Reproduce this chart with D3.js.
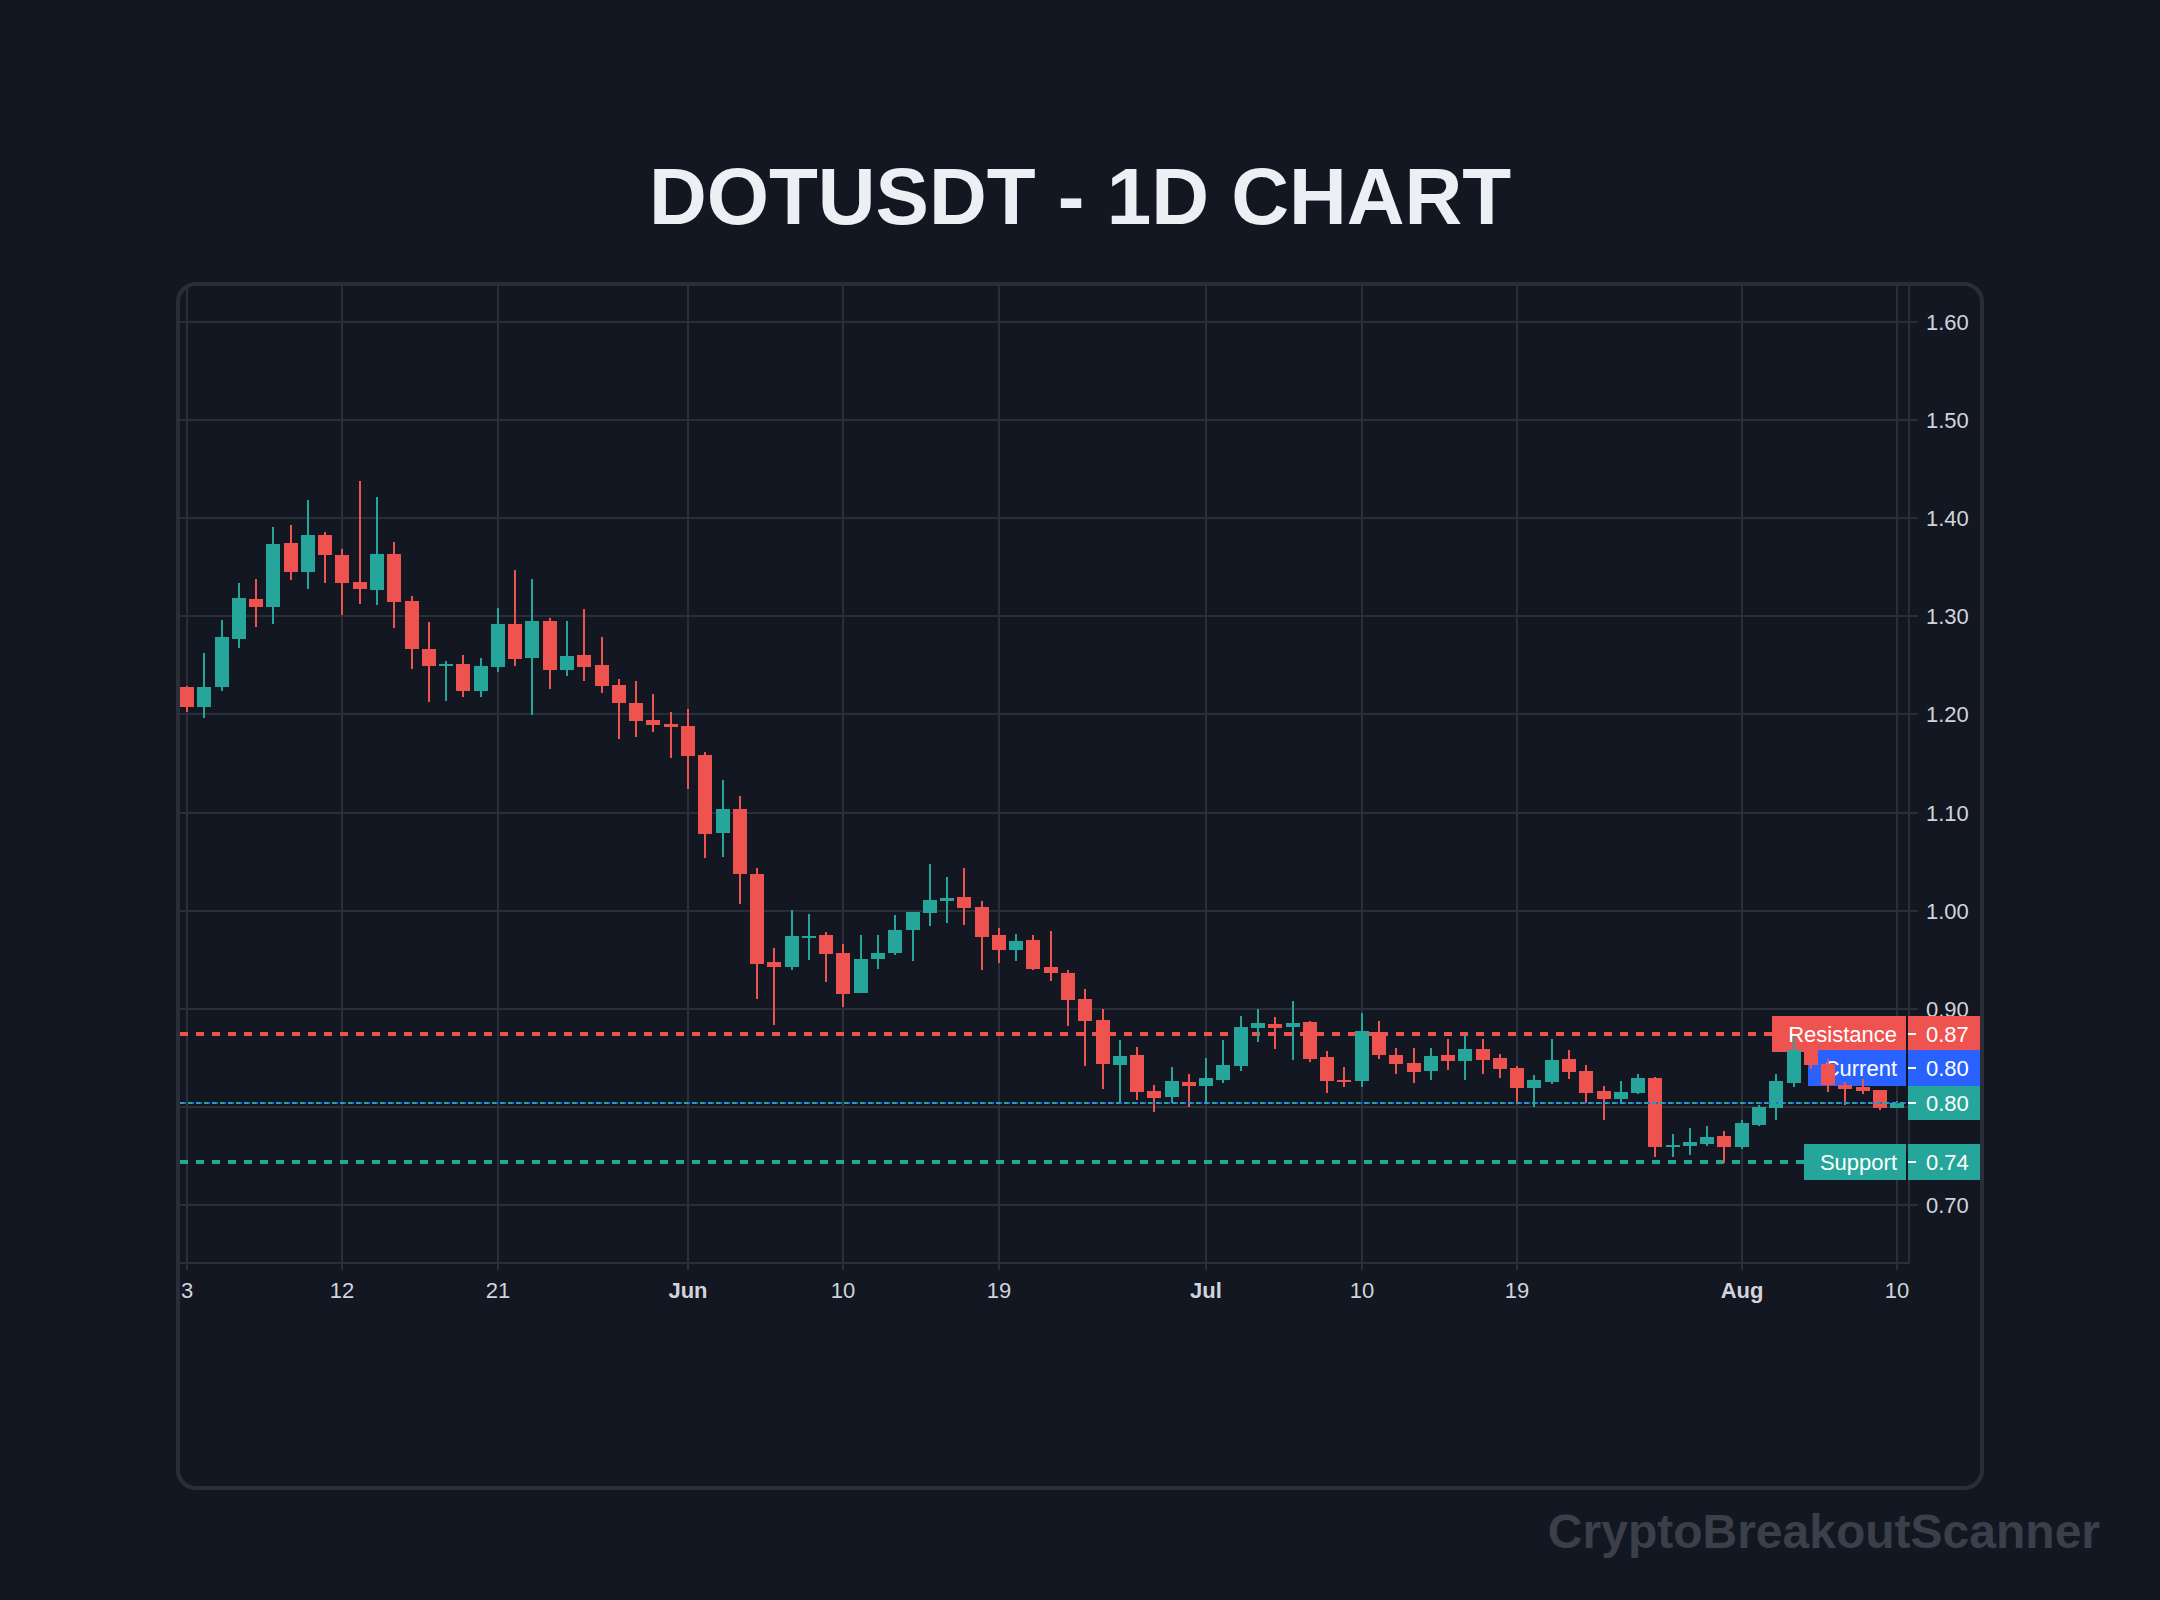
<!DOCTYPE html>
<html>
<head>
<meta charset="utf-8">
<title>DOTUSDT - 1D CHART</title>
<script src="https://cdn.jsdelivr.net/npm/d3@7"></script>
<style>
    html, body { margin: 0; padding: 0; background: #131722; }
    svg { display: block; font-family: "Liberation Sans", Arial, sans-serif; }
</style>
</head>
<body>
<svg id="chart" width="2160" height="1600"></svg>
<script>
const opens = [
    1.2272, 1.2068, 1.2272, 1.2762, 1.3170, 1.3088, 1.3741, 1.3446, 1.3823, 1.3619,
    1.3344, 1.3262, 1.3629, 1.3150, 1.2660, 1.2486, 1.2507, 1.2231, 1.2476, 1.2915,
    1.2568, 1.2946, 1.2446, 1.2599, 1.2497, 1.2293, 1.2109, 1.1935, 1.1895, 1.1875,
    1.1580, 1.0786, 1.1031, 1.0369, 0.9475, 0.9424, 0.9719, 0.9749, 0.9566, 0.9159,
    0.9505, 0.9566, 0.9800, 0.9973, 1.0095, 1.0136, 1.0034, 0.9749, 0.9597, 0.9698,
    0.9424, 0.9363, 0.9098, 0.8885, 0.8425, 0.8527, 0.8160, 0.8099, 0.8252, 0.8211,
    0.8272, 0.8415, 0.8803, 0.8844, 0.8813, 0.8864, 0.8507, 0.8272, 0.8262, 0.8762,
    0.8527, 0.8446, 0.8364, 0.8527, 0.8466, 0.8588, 0.8497, 0.8395, 0.8190, 0.8252,
    0.8486, 0.8364, 0.8153, 0.8071, 0.8133, 0.8286, 0.7582, 0.7602, 0.7622, 0.7694,
    0.7582, 0.7816, 0.7980, 0.8235, 0.8571, 0.8429, 0.8214, 0.8194, 0.8163, 0.7980,
];
const closes = [
    1.2068, 1.2272, 1.2782, 1.3180, 1.3088, 1.3731, 1.3446, 1.3823, 1.3619, 1.3333,
    1.3272, 1.3629, 1.3139, 1.2660, 1.2486, 1.2507, 1.2231, 1.2486, 1.2915, 1.2558,
    1.2946, 1.2446, 1.2588, 1.2476, 1.2282, 1.2109, 1.1925, 1.1884, 1.1864, 1.1569,
    1.0776, 1.1031, 1.0369, 0.9454, 0.9424, 0.9739, 0.9739, 0.9556, 0.9149, 0.9505,
    0.9566, 0.9800, 0.9983, 1.0105, 1.0125, 1.0024, 0.9729, 0.9597, 0.9688, 0.9403,
    0.9363, 0.9088, 0.8875, 0.8437, 0.8517, 0.8150, 0.8088, 0.8262, 0.8211, 0.8293,
    0.8425, 0.8813, 0.8854, 0.8803, 0.8854, 0.8486, 0.8262, 0.8252, 0.8772, 0.8527,
    0.8435, 0.8354, 0.8517, 0.8466, 0.8588, 0.8476, 0.8384, 0.8190, 0.8272, 0.8476,
    0.8354, 0.8139, 0.8071, 0.8143, 0.8286, 0.7582, 0.7612, 0.7643, 0.7684, 0.7582,
    0.7827, 0.7990, 0.8255, 0.8571, 0.8418, 0.8214, 0.8173, 0.8153, 0.7980, 0.8036,
];
const highs = [
    1.2282, 1.2619, 1.2956, 1.3333, 1.3374, 1.3905, 1.3925, 1.4180, 1.3854, 1.3680,
    1.4374, 1.4211, 1.3752, 1.3201, 1.2935, 1.2537, 1.2599, 1.2568, 1.3078, 1.3466,
    1.3374, 1.2976, 1.2946, 1.3068, 1.2782, 1.2354, 1.2333, 1.2201, 1.2017, 1.2047,
    1.1610, 1.1325, 1.1163, 1.0431, 0.9617, 1.0003, 0.9963, 0.9780, 0.9658, 0.9749,
    0.9749, 0.9953, 0.9983, 1.0471, 1.0339, 1.0431, 1.0095, 0.9820, 0.9759, 0.9749,
    0.9790, 0.9393, 0.9200, 0.8997, 0.8680, 0.8609, 0.8221, 0.8405, 0.8333, 0.8497,
    0.8680, 0.8925, 0.8997, 0.8915, 0.9078, 0.8874, 0.8568, 0.8405, 0.8956, 0.8874,
    0.8599, 0.8599, 0.8599, 0.8690, 0.8741, 0.8690, 0.8537, 0.8415, 0.8323, 0.8690,
    0.8578, 0.8425, 0.8204, 0.8255, 0.8327, 0.8296, 0.7724, 0.7776, 0.7796, 0.7755,
    0.7857, 0.8020, 0.8327, 0.8704, 0.8602, 0.8480, 0.8245, 0.8276, 0.8163, 0.8051,
];
const lows = [
    1.2017, 1.1956, 1.2231, 1.2670, 1.2884, 1.2915, 1.3364, 1.3272, 1.3333, 1.3007,
    1.3119, 1.3109, 1.2874, 1.2456, 1.2119, 1.2129, 1.2170, 1.2170, 1.2425, 1.2486,
    1.1986, 1.2252, 1.2384, 1.2333, 1.2211, 1.1741, 1.1762, 1.1813, 1.1549, 1.1234,
    1.0532, 1.0542, 1.0064, 0.9098, 0.8834, 0.9393, 0.9495, 0.9271, 0.9017, 0.9159,
    0.9403, 0.9546, 0.9485, 0.9841, 0.9871, 0.9851, 0.9393, 0.9464, 0.9485, 0.9393,
    0.9281, 0.8824, 0.8417, 0.8183, 0.8037, 0.8068, 0.7946, 0.8037, 0.7997, 0.8037,
    0.8241, 0.8364, 0.8660, 0.8588, 0.8476, 0.8456, 0.8139, 0.8201, 0.8201, 0.8486,
    0.8333, 0.8241, 0.8272, 0.8374, 0.8272, 0.8333, 0.8293, 0.8037, 0.7997, 0.8231,
    0.8282, 0.8037, 0.7867, 0.8031, 0.8122, 0.7480, 0.7480, 0.7510, 0.7602, 0.7429,
    0.7571, 0.7806, 0.7867, 0.8194, 0.8378, 0.8143, 0.8010, 0.8122, 0.7959, 0.7980,
];

const firstDay = new Date(Date.UTC(2024, 4, 3));
const lastDay = new Date(Date.UTC(2024, 7, 10));
const timeTicks = [
    [Date.UTC(2024, 4, 3), '3'],
    [Date.UTC(2024, 4, 12), '12'],
    [Date.UTC(2024, 4, 21), '21'],
    [Date.UTC(2024, 5, 1), 'Jun'],
    [Date.UTC(2024, 5, 10), '10'],
    [Date.UTC(2024, 5, 19), '19'],
    [Date.UTC(2024, 6, 1), 'Jul'],
    [Date.UTC(2024, 6, 10), '10'],
    [Date.UTC(2024, 6, 19), '19'],
    [Date.UTC(2024, 7, 1), 'Aug'],
    [Date.UTC(2024, 7, 10), '10'],
];
const monthTicks = ['Jun', 'Jul', 'Aug'];
const priceTicks = [1.6, 1.5, 1.4, 1.3, 1.2, 1.1, 1.0, 0.9, 0.8, 0.7];

const resistancePrice = 0.8745;
const supportPrice = 0.7439;
const currentPrice = closes[closes.length - 1];

const GRID = '#2a2e39';
const UP = '#26a69a';
const DOWN = '#ef5350';
const BLUE = '#2962ff';
const TEXT = '#d1d4dc';

// pane limits, in page pixels
const paneLeft = 180;
const paneRight = 1906;
const paneTop = 286;
const paneBottom = 1263;
const axisX = 1909;

const days = d3.utcDay.range(firstDay, d3.utcDay.offset(lastDay, 1));
const candles = days.map((d, i) => ({ date: d, open: opens[i], close: closes[i], high: highs[i], low: lows[i] }));

const x = d3.scaleUtc().domain([firstDay, lastDay]).rangeRound([187, 1897.2]);
const y = d3.scaleLinear().domain([0.7, 1.6]).rangeRound([1205, 321.9]);
// candles snap a touch higher than the grid lines do
const yCandle = d3.scaleLinear().domain([0.7, 1.6]).rangeRound([1204.6, 321.4]);

const svg = d3.select('#chart');

svg.append('rect').attr('width', 2160).attr('height', 1600).attr('fill', '#131722');

svg.append('text')
    .attr('x', 1080)
    .attr('y', 224)
    .attr('text-anchor', 'middle')
    .attr('font-size', 80)
    .attr('font-weight', 700)
    .attr('fill', '#eceff4')
    .text('DOTUSDT - 1D CHART');

svg.append('text')
    .attr('x', 2100)
    .attr('y', 1548)
    .attr('text-anchor', 'end')
    .attr('font-size', 48)
    .attr('font-weight', 700)
    .attr('fill', '#3b3f4a')
    .text('CryptoBreakoutScanner');

// grid
const grid = svg.append('g').attr('stroke', GRID).attr('stroke-width', 2);
grid.selectAll('line.h')
    .data(priceTicks)
    .join('line')
    .attr('class', 'h')
    .attr('x1', paneLeft)
    .attr('x2', axisX)
    .attr('y1', (d) => y(d))
    .attr('y2', (d) => y(d));
grid.selectAll('line.v')
    .data(timeTicks)
    .join('line')
    .attr('class', 'v')
    .attr('x1', (d) => x(d[0]))
    .attr('x2', (d) => x(d[0]))
    .attr('y1', paneTop)
    .attr('y2', paneBottom);

// axes
const priceAxis = d3.axisRight(y)
    .tickValues(priceTicks)
    .tickFormat(d3.format('.2f'))
    .tickSize(9)
    .tickPadding(8)
    .offset(0);
const timeAxis = d3.axisBottom(x)
    .tickValues(timeTicks.map((d) => new Date(d[0])))
    .tickFormat((d) => timeTicks.find((t) => t[0] === d.getTime())[1])
    .tickSize(7)
    .tickPadding(12)
    .offset(0);

const priceG = svg.append('g').attr('transform', `translate(${axisX},0)`).call(priceAxis);
const timeG = svg.append('g').attr('transform', `translate(0,${paneBottom})`).call(timeAxis);

[priceG, timeG].forEach((g) => {
    g.attr('font-family', null).attr('font-size', 22);
    g.select('.domain').attr('stroke', GRID).attr('stroke-width', 2);
    g.selectAll('.tick line').attr('stroke', GRID).attr('stroke-width', 2);
    g.selectAll('.tick text').attr('fill', TEXT);
});
priceG.select('.domain').attr('d', `M0,${paneTop}V${paneBottom + 1}`);
priceG.selectAll('.tick text').attr('dy', '0.35em');
timeG.select('.domain').attr('d', `M${paneLeft},0H${axisX + 1}`);
timeG.selectAll('.tick text')
    .attr('font-weight', function () {
        return monthTicks.includes(this.textContent) ? 700 : 400;
    });

// support and resistance sit under the candles
const levels = [
    { price: resistancePrice, name: 'Resistance', color: DOWN },
    { price: supportPrice, name: 'Support', color: UP },
];
svg.append('g')
    .selectAll('line')
    .data(levels)
    .join('line')
    .attr('x1', paneLeft)
    .attr('x2', paneRight)
    .attr('y1', (d) => y(d.price))
    .attr('y2', (d) => y(d.price))
    .attr('stroke', (d) => d.color)
    .attr('stroke-width', 4)
    .attr('stroke-dasharray', '8 8');

// left hand labels, also under the candles
const paneLabels = [
    { name: 'Resistance', center: y(resistancePrice), color: DOWN, width: 134 },
    { name: 'Current', center: y(currentPrice) - 35, color: BLUE, width: 98 },
    { name: 'Support', center: y(supportPrice), color: UP, width: 102 },
];
const paneLabel = svg.append('g')
    .selectAll('g')
    .data(paneLabels)
    .join('g');
paneLabel.append('rect')
    .attr('x', (d) => paneRight - d.width)
    .attr('y', (d) => d.center - 18)
    .attr('width', (d) => d.width)
    .attr('height', 36)
    .attr('fill', (d) => d.color);
paneLabel.append('text')
    .attr('x', 1897)
    .attr('y', (d) => d.center)
    .attr('dy', '0.35em')
    .attr('text-anchor', 'end')
    .attr('font-size', 22)
    .attr('fill', '#fff')
    .text((d) => d.name);

// candles
const candle = svg.append('g')
    .selectAll('g')
    .data(candles)
    .join('g')
    .attr('fill', (d) => (d.close >= d.open ? UP : DOWN));
candle.append('rect')
    .attr('x', (d) => x(d.date) - 1)
    .attr('y', (d) => yCandle(d.high))
    .attr('width', 2)
    .attr('height', (d) => yCandle(d.low) - yCandle(d.high));
candle.append('rect')
    .attr('x', (d) => x(d.date) - 7)
    .attr('y', (d) => yCandle(Math.max(d.open, d.close)))
    .attr('width', 14)
    .attr('height', (d) => Math.max(2, yCandle(Math.min(d.open, d.close)) - yCandle(Math.max(d.open, d.close))));

// current price, blue line with the green last value line on top
svg.append('line')
    .attr('x1', paneLeft)
    .attr('x2', paneRight)
    .attr('y1', y(currentPrice))
    .attr('y2', y(currentPrice))
    .attr('stroke', BLUE)
    .attr('stroke-width', 2)
    .attr('stroke-dasharray', '6 2');
svg.append('line')
    .attr('x1', paneLeft)
    .attr('x2', paneRight)
    .attr('y1', y(currentPrice))
    .attr('y2', y(currentPrice))
    .attr('stroke', UP)
    .attr('stroke-width', 2)
    .attr('stroke-dasharray', '4 4');

// right hand value labels
const axisLabels = [
    { price: resistancePrice, center: y(resistancePrice), color: DOWN, top: 18, height: 34 },
    { price: supportPrice, center: y(supportPrice), color: UP, top: 18, height: 36 },
    { price: currentPrice, center: y(currentPrice), color: UP, top: 17, height: 34 },
    { price: currentPrice, center: y(currentPrice) - 35, color: BLUE, top: 18, height: 36 },
];
const axisLabel = svg.append('g')
    .selectAll('g')
    .data(axisLabels)
    .join('g');
axisLabel.append('rect')
    .attr('x', 1908)
    .attr('y', (d) => d.center - d.top)
    .attr('width', 72)
    .attr('height', (d) => d.height)
    .attr('fill', (d) => d.color);
axisLabel.append('rect')
    .attr('x', 1908)
    .attr('y', (d) => d.center - 1)
    .attr('width', 8)
    .attr('height', 2)
    .attr('fill', '#fff');
axisLabel.append('text')
    .attr('x', 1926)
    .attr('y', (d) => d.center)
    .attr('dy', '0.35em')
    .attr('font-size', 22)
    .attr('fill', '#fff')
    .text((d) => d3.format('.2f')(d.price));

// card border
svg.append('rect')
    .attr('x', 178)
    .attr('y', 284)
    .attr('width', 1804)
    .attr('height', 1204)
    .attr('rx', 18)
    .attr('fill', 'none')
    .attr('stroke', GRID)
    .attr('stroke-width', 4);
</script>
</body>
</html>
